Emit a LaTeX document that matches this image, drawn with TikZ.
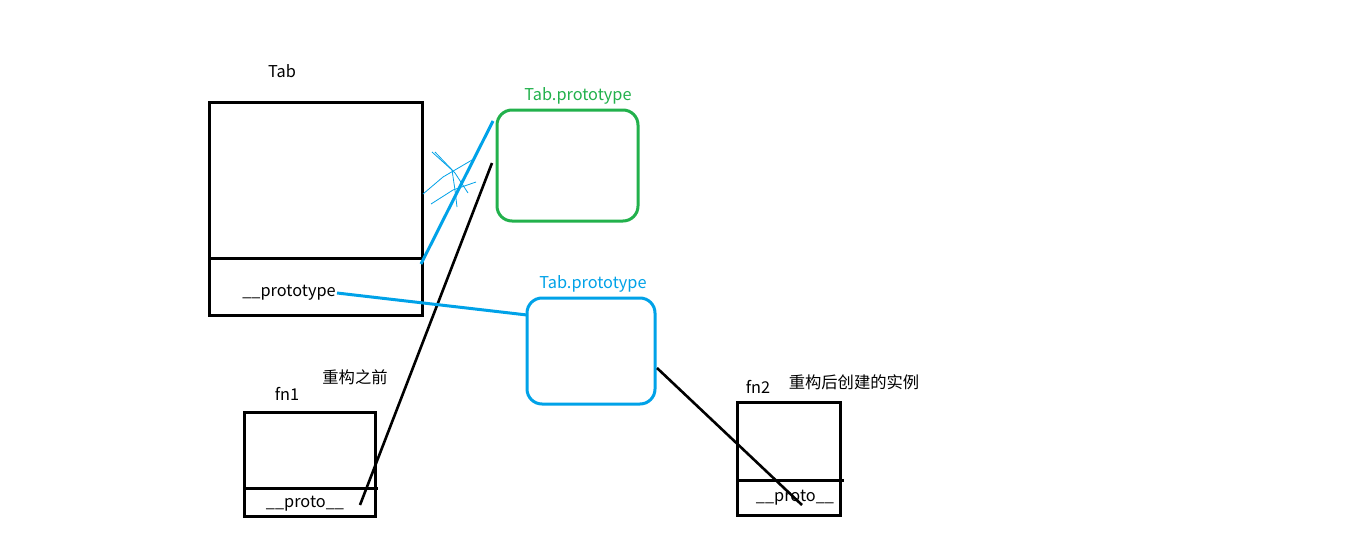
\documentclass[tikz,border=0pt]{standalone}
\usepackage{fontspec}
\setmainfont{Noto Sans CJK SC}
\definecolor{tgreen}{RGB}{34,177,76}
\definecolor{tblue}{RGB}{0,162,232}
\begin{document}
\begin{tikzpicture}[x=1pt,y=-1pt,
  box/.style={draw=black,line width=3pt},
  rbox/.style={line width=3pt,rounded corners=15pt},
  lbl/.style={font=\fontsize{16.3}{19}\selectfont,inner sep=0pt},
  bline/.style={tblue,line width=3pt},
  kline/.style={black,line width=2.6pt},
  scrib/.style={tblue,line width=0.8pt}]
\useasboundingbox[fill=white] (0,0) rectangle (1360,533);
% Tab box
\draw[box] (209,102) rectangle (422,315);
\coordinate (tabdivL) at (211,258);
\coordinate (tabdivR) at (422,258);
\draw[box] (tabdivL) -- (tabdivR);
\node[lbl] (tab) at (282,71) {Tab};
\node[lbl] (proto) at (289,293) {\_\_prototype};
% green prototype
\draw[rbox,tgreen] (497,110) rectangle (638,221);
\node[lbl,text=tgreen] (gl) at (578,96) {Tab.prototype};
% blue prototype
\draw[rbox,tblue] (527,298) rectangle (655,404);
\node[lbl,text=tblue] (bl) at (593,284) {Tab.prototype};
% fn1
\draw[box] (244,412) rectangle (375,516);
\coordinate (f1L) at (244,488);
\coordinate (f1R) at (378,488);
\draw[box] (f1L) -- (f1R);
\node[lbl] (fn1) at (287,394) {fn1};
\node[lbl] (p1) at (305,504) {\_\_proto\_\_};
\node[lbl] (c1) at (355,377) {重构之前};
% fn2
\draw[box] (737,402) rectangle (840,515);
\coordinate (f2L) at (736,480);
\coordinate (f2R) at (844,480);
\draw[box] (f2L) -- (f2R);
\node[lbl] (fn2) at (758,387) {fn2};
\node[lbl] (p2) at (795,498) {\_\_proto\_\_};
\node[lbl] (c2) at (854,382) {重构后创建的实例};
% connectors
\coordinate (b1s) at (421,264);
\coordinate (b1e) at (493,121);
\draw[bline] (b1s) -- (b1e);
\coordinate (k1s) at (492,163);
\coordinate (k1e) at (360,505);
\draw[kline] (k1s) -- (k1e);
\coordinate (b2s) at (337,293);
\coordinate (b2e) at (527,315);
\draw[bline] (b2s) -- (b2e);
\coordinate (k2s) at (657,368);
\coordinate (k2e) at (802,505);
\draw[kline] (k2s) -- (k2e);
% scribble
\draw[scrib] (432,152) -- (452,170) -- (455,190) -- (457,207);
\draw[scrib] (435,152) -- (455,173) -- (468,193);
\draw[scrib] (423,194) -- (443,177) -- (472,160);
\draw[scrib] (431,204) -- (453,190) -- (476,182);
\end{tikzpicture}
\end{document}
